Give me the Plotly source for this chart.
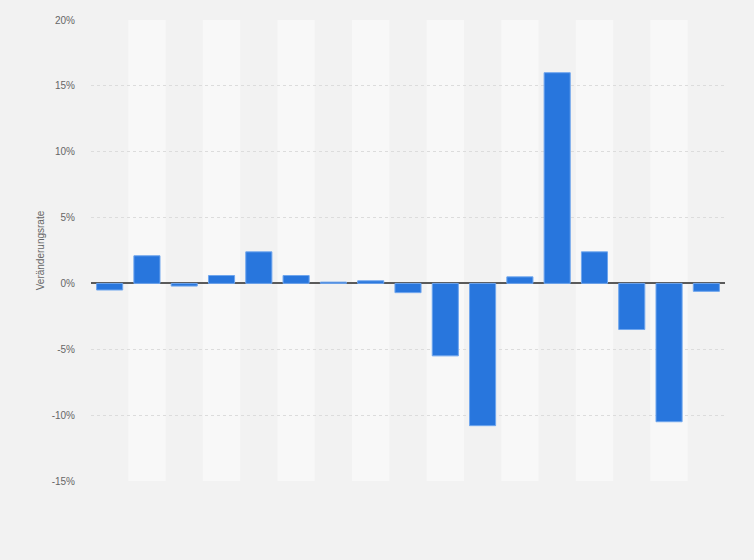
import plotly.graph_objects as go

categories = [str(y) for y in range(2006, 2023)]
values = [-0.5, 2.1, -0.2, 0.6, 2.4, 0.6, 0.1, 0.2, -0.7, -5.5, -10.8, 0.5, 16.0, 2.4, -3.5, -10.5, -0.6]
y_ticks = [-15, -10, -5, 0, 5, 10, 15, 20]
y_ticklabels = [f"{t}%" for t in y_ticks]

fig = go.Figure()
fig.add_trace(go.Bar(
    x=categories, y=values,
    marker=dict(color="#2876dd", line=dict(color="#6fa6ee", width=1)),
    width=0.7,
))

shapes = []
for i in range(len(categories)):
    if i % 2 == 1:
        shapes.append(dict(type="rect", xref="x", yref="y",
                           x0=i - 0.5, x1=i + 0.5, y0=-15, y1=20,
                           fillcolor="#f8f8f8", line=dict(width=0), layer="below"))

fig.update_layout(
    width=754, height=560,
    paper_bgcolor="#f2f2f2", plot_bgcolor="#f2f2f2",
    margin=dict(l=91, r=29, t=20, b=79),
    shapes=shapes,
    showlegend=False,
    bargap=0.3,
    font=dict(family="Arial, Liberation Sans, sans-serif", color="#666666", size=10),
)
fig.update_xaxes(showticklabels=False, showgrid=False, zeroline=False,
                 range=[-0.5, len(categories) - 0.5])
fig.update_yaxes(range=[-15, 20], tickvals=y_ticks, ticktext=y_ticklabels,
                 showgrid=True, gridcolor="#dcdcdc", griddash="dot", gridwidth=1,
                 zeroline=True, zerolinecolor="#5a5a5a", zerolinewidth=2,
                 tickfont=dict(size=10, color="#666666"), ticks="",
                 ticklabelstandoff=15,
                 title=dict(text="Veränderungsrate", font=dict(size=10, color="#666666"), standoff=5))

fig.write_html("out.html", config={"displayModeBar": False},
               post_script="document.body.style.margin='0';document.body.style.background='#f2f2f2';")
